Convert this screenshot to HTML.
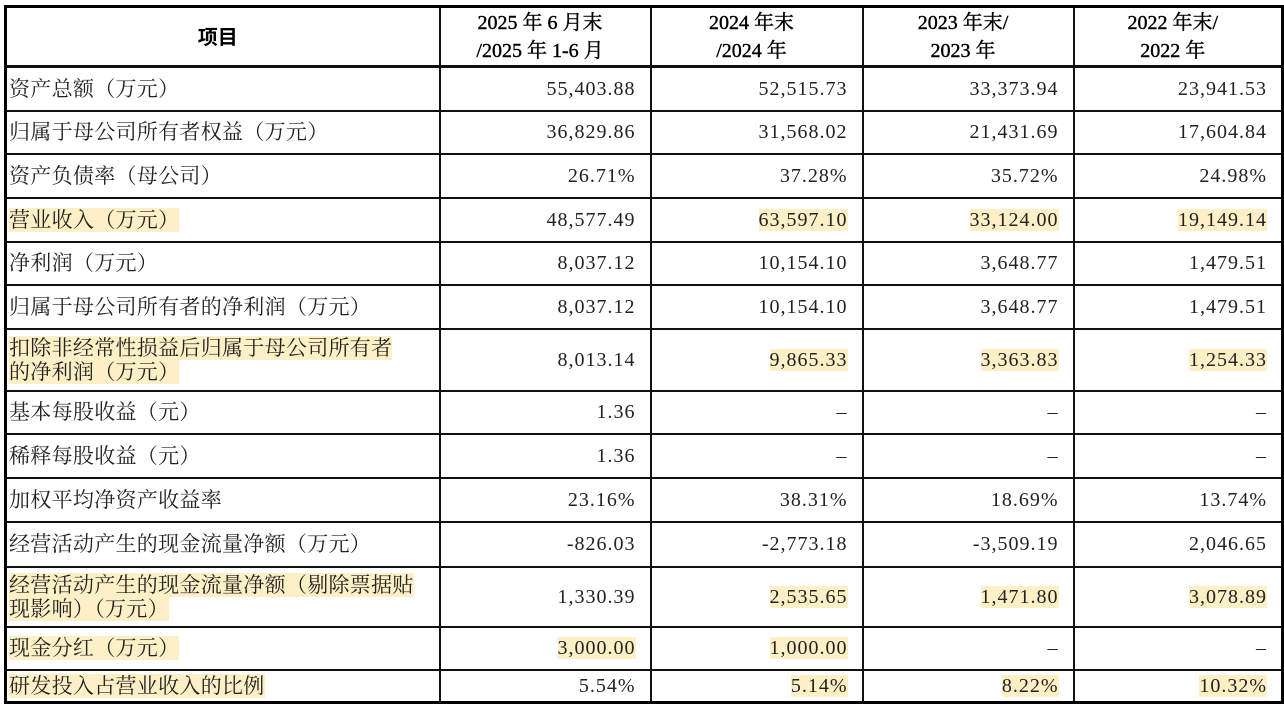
<!DOCTYPE html>
<html><head><meta charset="utf-8"><style>
html,body{margin:0;padding:0;background:#fff;width:1284px;height:707px;overflow:hidden}
table{position:absolute;left:4px;top:5px;border-collapse:collapse;border:3px solid #000;table-layout:fixed}
td{border:2px solid #111;padding:0 12px 0 2px;font-family:"Liberation Serif","Noto Serif CJK SC",serif;font-size:21px;color:#222;line-height:24px}
td.n{text-align:right;letter-spacing:1px;padding-right:14px;font-size:20px}
td.h{text-align:center;font-family:"Liberation Serif","Noto Serif CJK SC",serif;font-size:20px;line-height:28px;color:#000;font-weight:normal;-webkit-text-stroke:0.4px #000}
td.h b{font-family:"Noto Sans CJK SC",sans-serif;font-weight:bold;-webkit-text-stroke:0}
td.l{letter-spacing:0.3px}
.y{background:#fdf0c6}
tr.th td{border-bottom-width:3px}
</style></head><body>
<table>
<colgroup><col style="width:434px"><col style="width:211px"><col style="width:212px"><col style="width:211px"><col style="width:209px"></colgroup>
<tr class="th" style="height:60px"><td class="h"><b>项目</b></td><td class="h">2025 年 6 月末<br>/2025 年 1-6 月</td><td class="h">2024 年末<br>/2024 年</td><td class="h">2023 年末/<br>2023 年</td><td class="h">2022 年末/<br>2022 年</td></tr>
<tr style="height:44px"><td class="l">资产总额（万元）</td><td class="n">55,403.88</td><td class="n">52,515.73</td><td class="n">33,373.94</td><td class="n">23,941.53</td></tr>
<tr style="height:43px"><td class="l">归属于母公司所有者权益（万元）</td><td class="n">36,829.86</td><td class="n">31,568.02</td><td class="n">21,431.69</td><td class="n">17,604.84</td></tr>
<tr style="height:44px"><td class="l">资产负债率（母公司）</td><td class="n">26.71%</td><td class="n">37.28%</td><td class="n">35.72%</td><td class="n">24.98%</td></tr>
<tr style="height:44px"><td class="l"><span class="y">营业收入（万元）</span></td><td class="n">48,577.49</td><td class="n"><span class="y">63,597.10</span></td><td class="n"><span class="y">33,124.00</span></td><td class="n"><span class="y">19,149.14</span></td></tr>
<tr style="height:43px"><td class="l">净利润（万元）</td><td class="n">8,037.12</td><td class="n">10,154.10</td><td class="n">3,648.77</td><td class="n">1,479.51</td></tr>
<tr style="height:44px"><td class="l">归属于母公司所有者的净利润（万元）</td><td class="n">8,037.12</td><td class="n">10,154.10</td><td class="n">3,648.77</td><td class="n">1,479.51</td></tr>
<tr style="height:62px"><td class="l"><span class="y">扣除非经常性损益后归属于母公司所有者<br>的净利润（万元）</span></td><td class="n">8,013.14</td><td class="n"><span class="y">9,865.33</span></td><td class="n"><span class="y">3,363.83</span></td><td class="n"><span class="y">1,254.33</span></td></tr>
<tr style="height:43px"><td class="l">基本每股收益（元）</td><td class="n">1.36</td><td class="n">–</td><td class="n">–</td><td class="n">–</td></tr>
<tr style="height:44px"><td class="l">稀释每股收益（元）</td><td class="n">1.36</td><td class="n">–</td><td class="n">–</td><td class="n">–</td></tr>
<tr style="height:44px"><td class="l">加权平均净资产收益率</td><td class="n">23.16%</td><td class="n">38.31%</td><td class="n">18.69%</td><td class="n">13.74%</td></tr>
<tr style="height:45px"><td class="l">经营活动产生的现金流量净额（万元）</td><td class="n">-826.03</td><td class="n">-2,773.18</td><td class="n">-3,509.19</td><td class="n">2,046.65</td></tr>
<tr style="height:60px"><td class="l"><span class="y">经营活动产生的现金流量净额（剔除票据贴<br>现影响）（万元）</span></td><td class="n">1,330.39</td><td class="n"><span class="y">2,535.65</span></td><td class="n"><span class="y">1,471.80</span></td><td class="n"><span class="y">3,078.89</span></td></tr>
<tr style="height:43px"><td class="l"><span class="y">现金分红（万元）</span></td><td class="n"><span class="y">3,000.00</span></td><td class="n"><span class="y">1,000.00</span></td><td class="n">–</td><td class="n">–</td></tr>
<tr style="height:33px"><td class="l"><span class="y">研发投入占营业收入的比例</span></td><td class="n">5.54%</td><td class="n"><span class="y">5.14%</span></td><td class="n"><span class="y">8.22%</span></td><td class="n"><span class="y">10.32%</span></td></tr>
</table>
</body></html>
